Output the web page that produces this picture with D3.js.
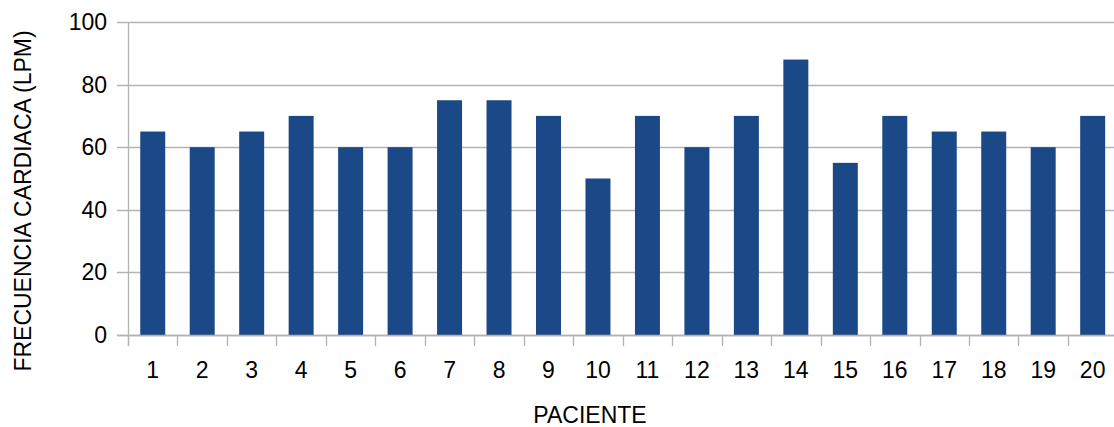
<!DOCTYPE html>
<html>
<head>
<meta charset="utf-8">
<script src="https://cdn.jsdelivr.net/npm/d3@7"></script>
<style>
  html, body { margin: 0; padding: 0; background: #fff; }
  svg { display: block; }
  text { font-family: "Liberation Sans", Arial, sans-serif; fill: #000; }
</style>
</head>
<body>
<svg id="chart" width="1114" height="427"></svg>
<script>
// Heart rate per patient
const pacientes = ["1","2","3","4","5","6","7","8","9","10","11","12","13","14","15","16","17","18","19","20"];
const frecuencia = [65, 60, 65, 70, 60, 60, 75, 75, 70, 50, 70, 60, 70, 88, 55, 70, 65, 65, 60, 70];
const yTicks = [0, 20, 40, 60, 80, 100];

const svg = d3.select("#chart");
const plotLeft = 128, plotRight = 1117.4, plotTop = 22, plotBottom = 335;
const gridColor = "#b3b3b3";
const barColor = "#1b4886";

const x = d3.scaleBand()
  .domain(pacientes)
  .range([plotLeft, plotRight])
  .paddingInner(0.495)
  .paddingOuter(0.2475);

const y = d3.scaleLinear().domain([0, 100]).range([plotBottom, plotTop]);

// horizontal gridlines with outward ticks
svg.append("g")
  .selectAll("line")
  .data(yTicks)
  .join("line")
  .attr("x1", plotLeft - 11)
  .attr("x2", 1114)
  .attr("y1", d => Math.round(y(d)) + 0.5)
  .attr("y2", d => Math.round(y(d)) + 0.5)
  .attr("stroke", gridColor)
  .attr("stroke-width", 1.3);

// bars
svg.append("g")
  .selectAll("rect")
  .data(frecuencia)
  .join("rect")
  .attr("x", (d, i) => x(pacientes[i]))
  .attr("width", x.bandwidth())
  .attr("y", d => y(d))
  .attr("height", d => y(0) - y(d))
  .attr("fill", barColor);

// axis lines
svg.append("line")
  .attr("x1", plotLeft + 0.5).attr("x2", plotLeft + 0.5)
  .attr("y1", plotTop).attr("y2", plotBottom + 11)
  .attr("stroke", gridColor).attr("stroke-width", 1.3);

svg.append("line")
  .attr("x1", plotLeft - 11).attr("x2", 1114)
  .attr("y1", Math.round(y(0)) + 0.5).attr("y2", Math.round(y(0)) + 0.5)
  .attr("stroke", gridColor).attr("stroke-width", 1.3);

// category boundary ticks
const step = x.step();
svg.append("g")
  .selectAll("line")
  .data(d3.range(pacientes.length + 1))
  .join("line")
  .attr("x1", i => Math.round(plotLeft + i * step) + 0.5)
  .attr("x2", i => Math.round(plotLeft + i * step) + 0.5)
  .attr("y1", plotBottom)
  .attr("y2", plotBottom + 11)
  .attr("stroke", gridColor)
  .attr("stroke-width", 1.3);

// y tick labels
svg.append("g")
  .selectAll("text")
  .data(yTicks)
  .join("text")
  .attr("x", plotLeft - 21)
  .attr("y", d => y(d) + 8)
  .attr("text-anchor", "end")
  .style("font-size", "23px")
  .text(d => d);

// x tick labels
svg.append("g")
  .selectAll("text")
  .data(pacientes)
  .join("text")
  .attr("x", d => x(d) + x.bandwidth() / 2)
  .attr("y", 378)
  .attr("text-anchor", "middle")
  .style("font-size", "23px")
  .text(d => d);

// axis titles
svg.append("text")
  .attr("x", 590)
  .attr("y", 423)
  .attr("text-anchor", "middle")
  .style("font-size", "23px")
  .text("PACIENTE");

svg.append("text")
  .attr("transform", "translate(31,201) rotate(-90)")
  .attr("text-anchor", "middle")
  .style("font-size", "23px")
  .text("FRECUENCIA CARDIACA (LPM)");
</script>
</body>
</html>
